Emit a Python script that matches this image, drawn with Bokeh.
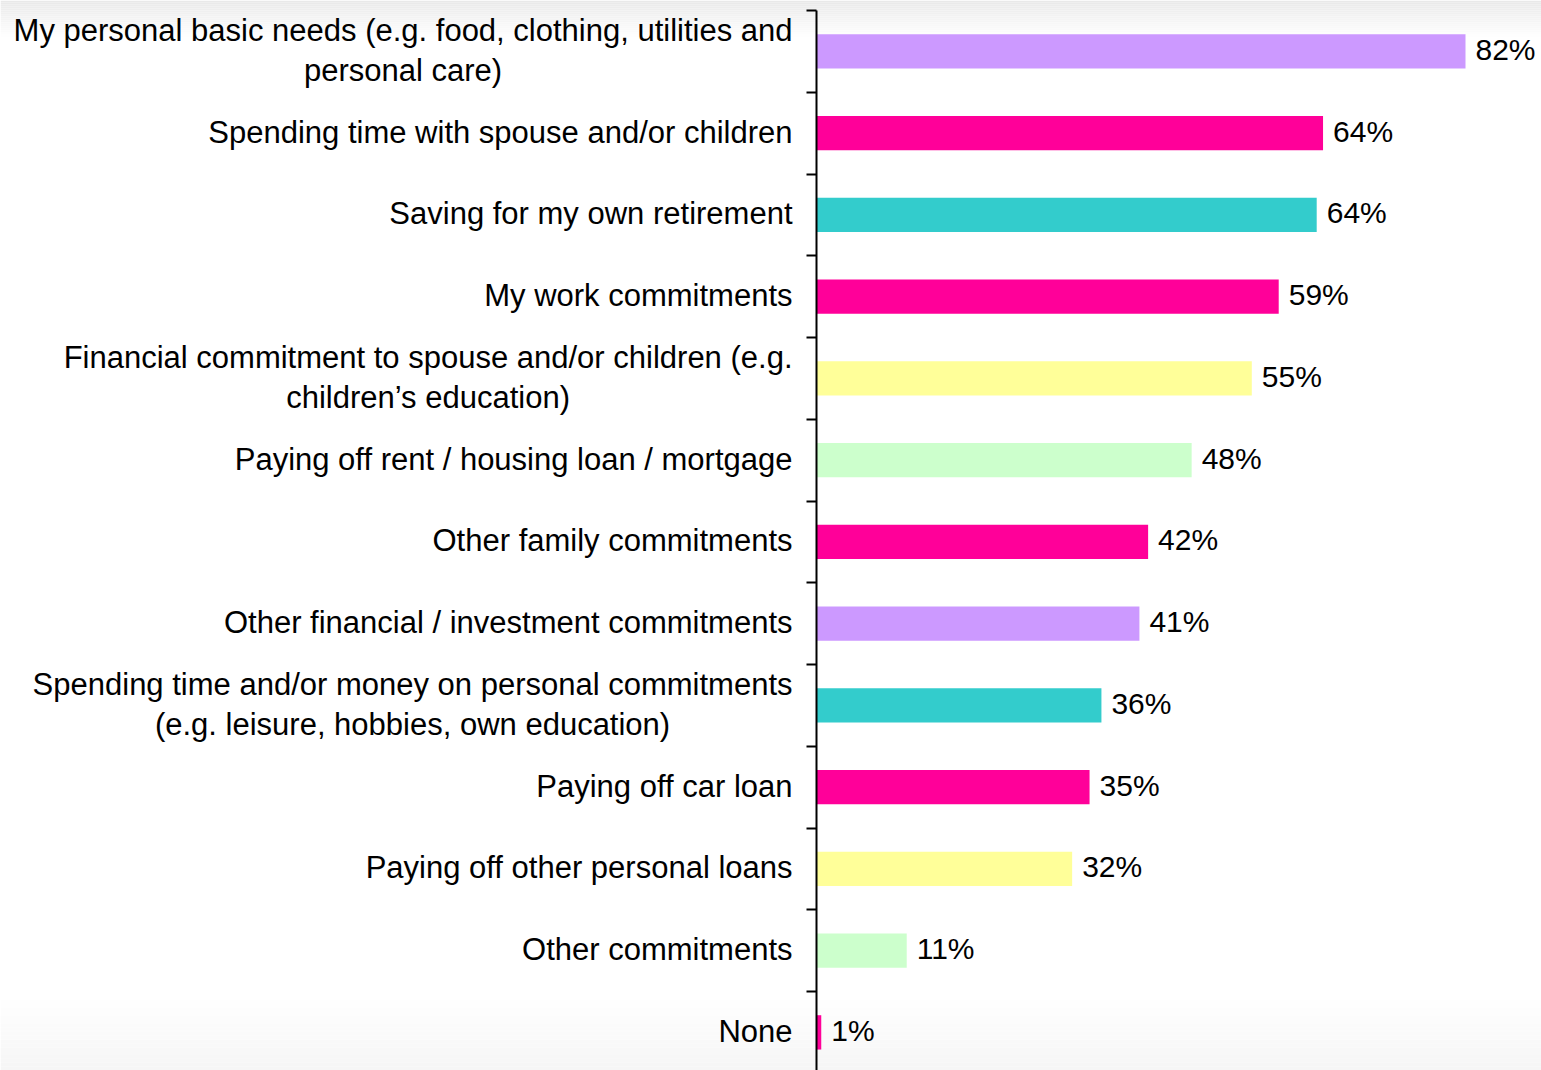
from bokeh.plotting import figure
from bokeh.models import Range1d, ColumnDataSource, LinearAxis, FixedTicker
from bokeh.core.properties import value
from bokeh.embed import file_html
from bokeh.resources import INLINE

categories = [
    "My personal basic needs (e.g. food, clothing, utilities and\npersonal care)",
    "Spending time with spouse and/or children",
    "Saving for my own retirement",
    "My work commitments",
    "Financial commitment to spouse and/or children (e.g.\nchildren\u2019s education)",
    "Paying off rent / housing loan / mortgage",
    "Other family commitments",
    "Other financial / investment commitments",
    "Spending time and/or money on personal commitments\n(e.g. leisure, hobbies, own education)",
    "Paying off car loan",
    "Paying off other personal loans",
    "Other commitments",
    "None",
]
values = [82, 64, 63.2, 58.4, 55, 47.4, 41.9, 40.8, 36, 34.5, 32.3, 11.4, 0.6]
value_labels = ["82%", "64%", "64%", "59%", "55%", "48%", "42%", "41%", "36%", "35%", "32%", "11%", "1%"]
colors = ["#CC99FF", "#FF0099", "#33CCCC", "#FF0099", "#FFFF99", "#CCFFCC", "#FF0099",
          "#CC99FF", "#33CCCC", "#FF0099", "#FFFF99", "#CCFFCC", "#FF0099"]

W, H = 1541, 1070
AXIS_PX = 816          # axis position inside the figure, px
PX_PER = 649 / 82      # px per percent
ROW_PX = 81.75
TOP_PX = 10            # first tick, px from top

n = len(categories)
ypos = list(range(n))

def py(px):
    return -0.5 + (px - TOP_PX) / ROW_PX

def px_x(px):
    return (px - AXIS_PX) / PX_PER

x_range = Range1d(px_x(0), px_x(W))
y_range = Range1d(py(H), py(0))

p = figure(width=W, height=H, x_range=x_range, y_range=y_range,
           output_backend="svg", toolbar_location=None,
           min_border=0, outline_line_color=None)
p.xaxis.visible = False
p.yaxis.visible = False
p.grid.visible = False

# soft grey vertical gradient at top and bottom of the page (background decoration)
bg_t, bg_b, bg_c = [], [], []
steps = 18
for k in range(steps):
    a0 = k * 36 / steps
    a1 = (k + 1) * 36 / steps
    g = int(233 + (255 - 233) * (k + 0.5) / steps)
    bg_t.append(py(a0)); bg_b.append(py(a1)); bg_c.append("#%02x%02x%02x" % (g, g, g))
for k in range(steps):
    a0 = 1000 + k * 70 / steps
    a1 = 1000 + (k + 1) * 70 / steps
    g = int(255 - (255 - 246) * (k + 0.5) / steps)
    bg_t.append(py(a0)); bg_b.append(py(a1)); bg_c.append("#%02x%02x%02x" % (g, g, g))
p.quad(left=px_x(0), right=px_x(W), top=bg_t, bottom=bg_b, fill_color=bg_c,
       line_color=None)

src = ColumnDataSource(dict(y=ypos, v=values, lab=value_labels, c=colors, cat=categories,
                            zero=[0] * n))

p.hbar(y="y", left=0, right="v", height=0.42, fill_color="c", line_color=None, source=src)

p.text(x="v", y="y", text="lab", source=src, x_offset=10, y_offset=-2, text_align="left",
       text_baseline="middle", text_font=value("Liberation Sans"),
       text_font_size="30px", text_color="#000000")

p.text(x="zero", y="y", text="cat", source=src, x_offset=-24, y_offset=-1,
       anchor="center_right",
       text_align="center", text_baseline="middle", text_font=value("Liberation Sans"),
       text_font_size="31px", text_color="#000000", text_line_height=1.15)

ticks = [i - 0.5 for i in range(n + 1)]
ax = LinearAxis(fixed_location=0, ticker=FixedTicker(ticks=ticks),
                bounds=(-0.5, py(H) + 1),
                major_label_overrides={t: "" for t in ticks},
                major_tick_in=0, major_tick_out=10,
                minor_tick_out=0, minor_tick_in=0, axis_line_width=2, major_tick_line_width=2,
                axis_line_color="black", major_tick_line_color="black")
p.add_layout(ax, "left")

open("out.html", "w").write(file_html(p, INLINE))
